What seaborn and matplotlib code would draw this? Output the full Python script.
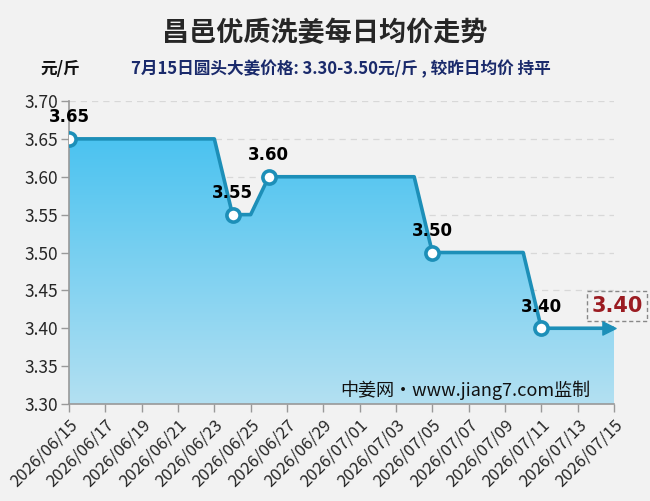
import numpy as np
import pandas as pd
import matplotlib
matplotlib.use("Agg")
import matplotlib.pyplot as plt
import seaborn as sns
from matplotlib.colors import LinearSegmentedColormap

dates = pd.date_range("2026-06-15", "2026-07-15").strftime("%Y/%m/%d").tolist()
prices = [3.65] * 9 + [3.55] * 2 + [3.60] * 9 + [3.50] * 6 + [3.40] * 5
marked_dates = ["2026/06/15", "2026/06/24", "2026/06/26", "2026/07/05", "2026/07/11"]
title = "昌邑优质洗姜每日均价走势"
subtitle = "7月15日圆头大姜价格: 3.30-3.50元/斤 , 较昨日均价 持平"
unit = "元/斤"
watermark = "中姜网·www.jiang7.com监制"
yticks = [3.30, 3.35, 3.40, 3.45, 3.50, 3.55, 3.60, 3.65, 3.70]

sns.set_style("white")
plt.rcParams['font.family'] = ['Noto Sans CJK SC', 'DejaVu Sans']

df = pd.DataFrame({"date": dates, "price": prices})
df["pos"] = np.arange(len(df))

fig = plt.figure(figsize=(6.5, 5.01), dpi=100, facecolor="#f2f2f2")
ax = fig.add_axes([69/650, 1-404/501, (614-69)/650, (404-101)/501])
ax.set_facecolor("#f2f2f2")

line_color = "#1d8fb8"
ymin, ymax = 3.30, 3.70
n = len(df)

# gradient fill
poly = ax.fill_between(df["pos"], df["price"], ymin, color="none", lw=0)
cmap = LinearSegmentedColormap.from_list("g", ["#b3e0f2", "#48c2f0"])
grad = np.linspace(0, 1, 256).reshape(-1, 1)
im = ax.imshow(grad, cmap=cmap, aspect="auto", origin="lower",
               extent=[0, n - 1, ymin, 3.66], zorder=1)
path = poly.get_paths()[0]
im.set_clip_path(path, transform=ax.transData)

for y in yticks[1:]:
    ax.axhline(y, color="#d8d8d8", lw=0.9, ls=(0, (5, 4)), zorder=0.5)

sns.lineplot(data=df, x="pos", y="price", ax=ax, color=line_color, lw=2.6, zorder=3)

mk = df[df["date"].isin(marked_dates)]
ax.scatter(mk["pos"], mk["price"], s=90, facecolor="white", edgecolor=line_color,
           linewidth=2.6, zorder=4)
for _, r in mk.iterrows():
    ax.annotate(f"{r['price']:.2f}", (r["pos"], r["price"]), xytext=(0, 9),
                textcoords="offset points", ha="center", va="bottom",
                fontsize=12, fontweight="bold", color="black", zorder=5,
                family=["DejaVu Sans"])

# arrow at end
ax.scatter([n - 1 - 0.3], [df["price"].iloc[-1]], marker=">", s=90, color=line_color,
           zorder=4, clip_on=False)

ax.set_xlim(0, n - 1)
ax.set_ylim(ymin, ymax)
ax.set_yticks(yticks)
ax.set_yticklabels([f"{v:.2f}" for v in yticks], fontsize=12.5)
ax.set_xticks(df["pos"][::2])
ax.set_xticklabels(df["date"][::2], rotation=45, ha="right", rotation_mode="anchor",
                   fontsize=12)
ax.tick_params(axis="x", length=6, color="#999999", width=1, pad=3, direction="out")
ax.tick_params(axis="y", length=6, color="#999999", width=1, pad=2, direction="out")
ax.tick_params(bottom=True, left=True)
ax.set_xlabel("")
ax.set_ylabel("")
for s in ["top", "right"]:
    ax.spines[s].set_visible(False)
for s in ["left", "bottom"]:
    ax.spines[s].set_color("#999999")
    ax.spines[s].set_linewidth(1.2)

ax.text((590 - 69) / (614 - 69), 0.012, watermark, transform=ax.transAxes, ha="right",
        va="bottom", fontsize=13, color="#111111", zorder=6)

# last-value box
ax.annotate(f"{df['price'].iloc[-1]:.2f}", xy=(n - 1, df["price"].iloc[-1]),
            xytext=(617/650, 1-306/501), textcoords="figure fraction",
            ha="center", va="center", fontsize=15, fontweight="bold", color="#9b1c22",
            family=["DejaVu Sans"],
            bbox=dict(boxstyle="square,pad=0.22", fc="#f2f2f2", ec="#888888",
                      ls=(0, (3, 2)), lw=1), annotation_clip=False)

fig.text(0.5, 1-33/501, title, ha="center", va="center", fontsize=19.5, fontweight="bold")
fig.text(40/650, 1-69/501, unit, ha="left", va="center", fontsize=12, fontweight="bold",
         color="#111111")
fig.text(341/650, 1-69/501, subtitle, ha="center", va="center", fontsize=12,
         fontweight="bold", color="#1a2a6b")

fig.savefig("out.png", dpi=100, facecolor=fig.get_facecolor())
